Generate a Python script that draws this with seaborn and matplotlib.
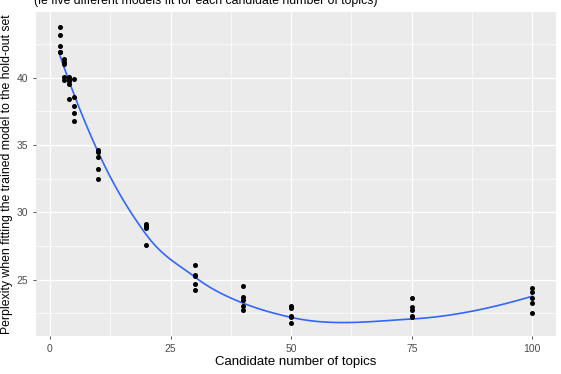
"""Perplexity vs candidate number of topics, with loess smooth (ggplot look)."""
import matplotlib
matplotlib.use("Agg")
import matplotlib.pyplot as plt
from matplotlib.ticker import MultipleLocator
import numpy as np
import pandas as pd
import seaborn as sns

# five models per candidate number of topics
TOPIC_LEVELS = [2, 3, 4, 5, 10, 20, 30, 40, 50, 75, 100]
PERP_K2 = [43.75, 43.2, 42.35, 41.95, 41.9]
PERP_K3 = [41.4, 41.2, 41.0, 40.05, 39.85]
PERP_K4 = [40.1, 39.95, 39.8, 39.55, 38.45]
PERP_K5 = [39.9, 38.6, 37.9, 37.4, 36.8]
PERP_K10 = [34.65, 34.45, 34.1, 33.2, 32.5]
PERP_K20 = [29.1, 29.0, 28.9, 28.8, 27.55]
PERP_K30 = [26.05, 25.35, 25.25, 24.65, 24.2]
PERP_K40 = [24.5, 23.7, 23.5, 23.0, 22.7]
PERP_K50 = [23.0, 22.85, 22.3, 22.25, 21.75]
PERP_K75 = [23.65, 22.95, 22.75, 22.3, 22.25]
PERP_K100 = [24.4, 24.05, 23.65, 23.25, 22.5]

X_TICKS = [0, 25, 50, 75, 100]
Y_TICKS = [25, 30, 35, 40]

SUBTITLE = "(ie five different models fit for each candidate number of topics)"
X_LABEL = "Candidate number of topics"
Y_LABEL = "Perplexity when fitting the trained model to the hold-out set"


def local_fit(x, y, x0, span=0.75):
    """Local quadratic fit with tricube weights; returns value and slope at x0."""
    n = len(x)
    q = int(np.floor(n * span))
    d = np.abs(x - x0)
    h = np.sort(d)[q - 1]
    w = np.clip(1 - (d / h) ** 3, 0, None) ** 3
    X = np.column_stack([np.ones(n), x - x0, (x - x0) ** 2])
    W = np.sqrt(w)
    beta, *_ = np.linalg.lstsq(X * W[:, None], y * W, rcond=None)
    return beta[0], beta[1]


def loess(x, y, x_new, span=0.75):
    """Fit at the distinct x values, then cubic Hermite between them (as R's loess does)."""
    verts = np.unique(x)
    fits = np.array([local_fit(x, y, v, span) for v in verts])
    vals, slopes = fits[:, 0], fits[:, 1]
    out = np.empty_like(x_new)
    for i, xn in enumerate(x_new):
        j = min(np.searchsorted(verts, xn, side="right") - 1, len(verts) - 2)
        x0, x1 = verts[j], verts[j + 1]
        hh = x1 - x0
        t = (xn - x0) / hh
        h00 = 2 * t**3 - 3 * t**2 + 1
        h10 = t**3 - 2 * t**2 + t
        h01 = -2 * t**3 + 3 * t**2
        h11 = t**3 - t**2
        out[i] = h00 * vals[j] + h10 * hh * slopes[j] + h01 * vals[j + 1] + h11 * hh * slopes[j + 1]
    return out


def main() -> None:
    groups = [PERP_K2, PERP_K3, PERP_K4, PERP_K5, PERP_K10, PERP_K20,
              PERP_K30, PERP_K40, PERP_K50, PERP_K75, PERP_K100]
    df = pd.DataFrame({
        "topics": np.repeat(TOPIC_LEVELS, [len(g) for g in groups]),
        "perplexity": np.concatenate(groups),
    })

    grid_x = np.linspace(df["topics"].min(), df["topics"].max(), 120)
    smooth = pd.DataFrame({
        "topics": grid_x,
        "perplexity": loess(df["topics"].to_numpy(float), df["perplexity"].to_numpy(float), grid_x),
    })

    sns.set_theme(style="darkgrid", rc={
        "axes.facecolor": "#EBEBEB",
        "grid.color": "white",
        "axes.edgecolor": "#EBEBEB",
        "xtick.bottom": True,
        "ytick.left": True,
    })
    plt.rcParams["font.family"] = ["Liberation Sans", "DejaVu Sans"]

    fig = plt.figure(figsize=(5.61, 3.74), dpi=100)
    ax = fig.add_axes([36 / 561, 38 / 374, 520 / 561, 324 / 374])

    sns.lineplot(data=smooth, x="topics", y="perplexity", color="#3366FF", lw=1.2, ax=ax, zorder=2)
    sns.scatterplot(data=df, x="topics", y="perplexity", color="black", s=13, linewidth=0, ax=ax, zorder=3)

    ax.set_xlim(-2.9, 104.9)
    ax.set_ylim(20.8, 44.9)
    ax.set_xticks(X_TICKS)
    ax.set_yticks(Y_TICKS)
    ax.xaxis.set_minor_locator(MultipleLocator(12.5))
    ax.yaxis.set_minor_locator(MultipleLocator(2.5))
    ax.grid(which="major", color="white", lw=1.0)
    ax.grid(which="minor", color="white", lw=0.5)
    ax.tick_params(which="major", length=2.5, width=0.6, color="#333333",
                   labelsize=7.5, labelcolor="#4D4D4D", pad=3)
    ax.tick_params(which="minor", length=0)
    for s in ax.spines.values():
        s.set_visible(False)

    ax.set_xlabel(X_LABEL, fontsize=9.5, color="black", labelpad=2)
    ax.set_ylabel(Y_LABEL, fontsize=8.8, color="black", labelpad=3)
    fig.text(34 / 561, 1 - 1 / 374, SUBTITLE, fontsize=8.8, ha="left", va="center", color="black")

    fig.savefig("out.png", dpi=100)
    plt.close(fig)


if __name__ == "__main__":
    main()
